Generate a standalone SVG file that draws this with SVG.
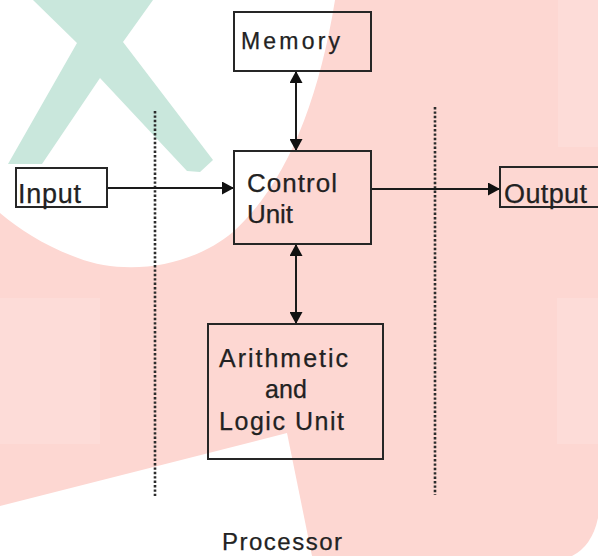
<svg xmlns="http://www.w3.org/2000/svg" width="598" height="556" viewBox="0 0 598 556">
  <defs>
    <style>
      .box { fill: none; stroke: #262626; stroke-width: 2; }
      .lbl { font-family: "Liberation Sans", Arial, sans-serif; fill: #222; stroke: #222; stroke-width: 0.25; }
      .link { stroke: #1a1a1a; stroke-width: 2; fill: none; }
      .sep { stroke: #2b2b2b; stroke-width: 2.6; stroke-dasharray: 2.4 2; fill: none; }
    </style>
    <marker id="head" markerUnits="userSpaceOnUse" markerWidth="13" markerHeight="13" refX="12" refY="6.5" orient="auto-start-reverse">
      <path d="M0,0 L12,6.5 L0,13 Z" fill="#111"/>
    </marker>
  </defs>

  <!-- backdrop -->
  <g id="backdrop">
    <rect x="0" y="0" width="598" height="556" fill="#fdd7d2"/>
    <rect x="0" y="298" width="100" height="146" fill="#fddcd8"/>
    <rect x="557" y="298" width="41" height="146" fill="#fddcd8"/>
    <rect x="558" y="0" width="40" height="147" fill="#fddcd8"/>
    <path d="M0,0 L335,0 C318,105 285,185 233,232 C190,268 125,276 78,258 C45,246 20,230 0,213 Z" fill="#ffffff"/>
    <path d="M0,506 L287,433 L312,556 L0,556 Z" fill="#ffffff"/>
    <path d="M598,518 Q592,546 572,556 L598,556 Z" fill="#ffffff"/>
    <path d="M33,0 L153,0 L123,42 L213,160 L200,172 L187,171 L100,78 L42,164 L8,164 L77,43 Z" fill="#c9e7dc"/>
  </g>

  <!-- processor boundary -->
  <g id="boundary">
    <line class="sep" x1="155" y1="111" x2="155" y2="496"/>
    <line class="sep" x1="435" y1="107" x2="435" y2="495"/>
  </g>

  <!-- connectors -->
  <g id="connectors">
    <line class="link" x1="296" y1="71" x2="296" y2="151" marker-start="url(#head)" marker-end="url(#head)"/>
    <line class="link" x1="296" y1="244" x2="296" y2="324" marker-start="url(#head)" marker-end="url(#head)"/>
    <line class="link" x1="107" y1="188" x2="234" y2="188" marker-end="url(#head)"/>
    <line class="link" x1="371" y1="189" x2="500" y2="189" marker-end="url(#head)"/>
  </g>

  <g id="memory">
    <rect class="box" x="234" y="12" width="137" height="59"/>
    <text class="lbl" x="241" y="49" font-size="23" textLength="99" lengthAdjust="spacing">Memory</text>
  </g>

  <g id="control-unit">
    <rect class="box" x="234" y="151" width="137" height="93"/>
    <text class="lbl" x="247" y="192" font-size="26" textLength="90" lengthAdjust="spacing">Control</text>
    <text class="lbl" x="247" y="223" font-size="26" textLength="46" lengthAdjust="spacing">Unit</text>
  </g>

  <g id="alu">
    <rect class="box" x="208" y="324" width="175" height="135"/>
    <text class="lbl" x="219" y="367" font-size="25" textLength="129" lengthAdjust="spacing">Arithmetic</text>
    <text class="lbl" x="265" y="398" font-size="25" textLength="42" lengthAdjust="spacing">and</text>
    <text class="lbl" x="219" y="430" font-size="25" textLength="125" lengthAdjust="spacing">Logic Unit</text>
  </g>

  <g id="input">
    <rect class="box" x="16" y="168" width="91" height="39"/>
    <text class="lbl" x="18" y="203" font-size="27" textLength="63" lengthAdjust="spacing">Input</text>
  </g>

  <g id="output">
    <rect class="box" x="500" y="167" width="110" height="40"/>
    <text class="lbl" x="504" y="203" font-size="27" textLength="83" lengthAdjust="spacing">Output</text>
  </g>

  <g id="processor-label">
    <text class="lbl" x="222" y="550" font-size="24" textLength="120" lengthAdjust="spacing">Processor</text>
  </g>
</svg>
